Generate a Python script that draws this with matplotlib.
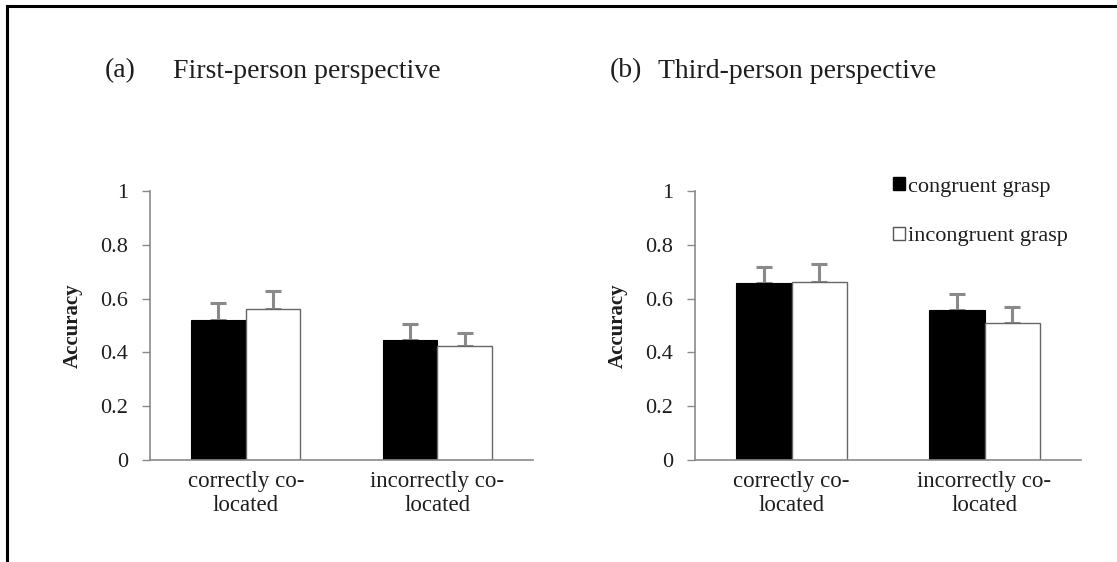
import numpy as np
import matplotlib
matplotlib.use('Agg')
import matplotlib.pyplot as plt
from matplotlib.lines import Line2D
from matplotlib.patches import Patch

plt.rcParams['font.family'] = ['Liberation Serif', 'DejaVu Serif']

# data
categories = ['correctly co-\nlocated', 'incorrectly co-\nlocated']
first_congruent = [0.52, 0.445]
first_congruent_err = [0.065, 0.06]
first_incongruent = [0.56, 0.425]
first_incongruent_err = [0.067, 0.048]

third_congruent = [0.658, 0.558]
third_congruent_err = [0.06, 0.06]
third_incongruent = [0.662, 0.51]
third_incongruent_err = [0.067, 0.058]

yticks = [0, 0.2, 0.4, 0.6, 0.8, 1]
ytick_labels = ['0', '0.2', '0.4', '0.6', '0.8', '1']

W, H = 1117, 562
fig = plt.figure(figsize=(W / 100, H / 100), dpi=100)

# outer frame (left and top only visible)
fig.add_artist(Line2D([7 / W, 7 / W], [0, 1 - 6 / H], color='black', lw=2.2))
fig.add_artist(Line2D([7 / W, 1], [1 - 6 / H, 1 - 6 / H], color='black', lw=2.2))

gray = '#8a8a8a'
txt = '#1e1e1e'
bw = 0.285


def panel(rect, cong, cong_err, incong, incong_err):
    ax = fig.add_axes(rect)
    x = np.arange(len(categories))
    ax.bar(x - bw / 2, cong, bw, color='black', edgecolor='black', lw=0.8, zorder=2)
    ax.bar(x + bw / 2, incong, bw, color='white', edgecolor='#666666', lw=1.0, zorder=2)
    ax.errorbar(x - bw / 2, cong, yerr=[np.zeros(2), cong_err], fmt='none',
                ecolor=gray, elinewidth=2.2, capsize=6, capthick=2.2, zorder=1)
    ax.errorbar(x + bw / 2, incong, yerr=[np.zeros(2), incong_err], fmt='none',
                ecolor=gray, elinewidth=2.2, capsize=6, capthick=2.2, zorder=1)
    ax.set_xlim(-0.5, 1.5)
    ax.set_ylim(0, 1)
    ax.set_yticks(yticks)
    ax.set_yticklabels(ytick_labels, fontsize=16, color=txt)
    ax.set_xticks(x)
    ax.set_xticklabels(categories, fontsize=16.5, color=txt, linespacing=1.2)
    ax.tick_params(axis='x', length=0, pad=8)
    ax.tick_params(axis='y', length=6, width=1, color=gray, pad=10)
    for s in ['top', 'right']:
        ax.spines[s].set_visible(False)
    for s in ['left', 'bottom']:
        ax.spines[s].set_color(gray)
        ax.spines[s].set_linewidth(1.2)
    ax.set_ylabel('Accuracy', fontsize=15, fontweight='bold', labelpad=12, color=txt)
    return ax


ax1 = panel([150 / W, 1 - 460 / H, 383 / W, 269 / H],
            first_congruent, first_congruent_err, first_incongruent, first_incongruent_err)
ax2 = panel([695 / W, 1 - 460 / H, 386 / W, 269 / H],
            third_congruent, third_congruent_err, third_incongruent, third_incongruent_err)

fig.text(105 / W, 1 - 71 / H, '(a)', fontsize=20, va='center', color=txt)
fig.text(173 / W, 1 - 71 / H, 'First-person perspective', fontsize=20, va='center', color=txt)
fig.text(610 / W, 1 - 71 / H, '(b)', fontsize=20, va='center', color=txt)
fig.text(658 / W, 1 - 71 / H, 'Third-person perspective', fontsize=20, va='center', color=txt)

handles = [Patch(facecolor='black', edgecolor='black'),
           Patch(facecolor='white', edgecolor='#555555')]
ax2.legend(handles, ['congruent grasp', 'incongruent grasp'], loc='upper left',
           bbox_to_anchor=((884 - 695) / 386, 1.085), frameon=False, fontsize=16,
           handlelength=0.55, handleheight=0.55, handletextpad=0.15, labelspacing=1.35,
           borderaxespad=0, labelcolor=txt)

fig.savefig('out.png', dpi=100)
